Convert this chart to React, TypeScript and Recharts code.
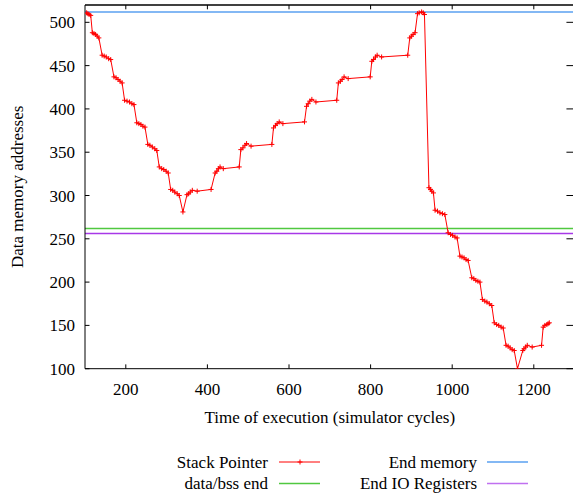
import React from 'react';
import { LineChart, Line, XAxis, YAxis, ReferenceLine } from 'recharts';

// simulator cycles for each stack pointer sample
const cycles = [
  104, 107, 110, 114,
  118, 122, 126, 130, 134,
  142, 147, 152, 158, 163,
  171, 176, 181, 186, 191,
  197, 203, 209, 215, 220,
  227, 232, 237, 242, 247,
  254, 259, 265, 271, 276,
  282, 288, 293, 299, 304,
  310, 315, 320, 326, 331,
  340,
  350, 354, 358, 363, 375, 409,
  419, 423, 427, 431, 439, 478,
  482, 487, 492, 496, 507, 558,
  562, 567, 571, 576, 585, 638,
  643, 647, 651, 656, 666, 717,
  721, 726, 730, 735, 745, 799,
  803, 807, 812, 816, 827, 891,
  896, 900, 904, 909, 915, 919, 925, 929, 932,
  943, 947, 950, 954,
  958, 964, 970, 976, 982,
  990, 996, 1001, 1007, 1012,
  1019, 1024, 1029, 1034, 1039,
  1048, 1053, 1058, 1063, 1068,
  1074, 1080, 1085, 1091, 1097,
  1103, 1109, 1114, 1120, 1125,
  1132, 1137, 1142, 1147, 1152,
  1160,
  1173, 1176, 1180, 1184, 1196, 1219,
  1223, 1227, 1232, 1235, 1238,
];

// stack pointer address at each sample
const stackPointer = [
  511, 510, 509, 508,
  488, 487, 486, 484, 482,
  462, 461, 460, 458, 457,
  437, 436, 434, 432, 430,
  410, 409, 408, 406, 405,
  384, 383, 382, 380, 379,
  359, 358, 356, 354, 352,
  333, 331, 330, 328, 326,
  307, 306, 304, 302, 300,
  281,
  301, 302, 304, 306, 305, 307,
  326, 328, 331, 333, 331, 333,
  353, 355, 358, 360, 357, 359,
  378, 381, 383, 385, 383, 385,
  403, 406, 409, 411, 408, 410,
  430, 432, 434, 437, 435, 437,
  455, 457, 460, 462, 460, 462,
  482, 484, 486, 488, 510, 511, 512, 511, 509,
  309, 307, 305, 303,
  283, 282, 280, 279, 278,
  257, 255, 254, 252, 251,
  230, 229, 228, 226, 225,
  205, 204, 202, 201, 200,
  180, 178, 177, 175, 173,
  153, 151, 150, 148, 147,
  127, 126, 124, 122, 121,
  100,
  121, 123, 125, 127, 125, 127,
  148, 150, 151, 152, 153,
];

const endMemory = 512;
const dataBssEnd = 262;
const endIoRegisters = 256;

const xTicks = [200, 400, 600, 800, 1000, 1200];
const yTicks = [100, 150, 200, 250, 300, 350, 400, 450, 500];

const FONT =
  "'Liberation Serif', 'Times New Roman', Times, 'Nimbus Roman', 'Noto Serif', 'DejaVu Serif', serif";

const data = cycles.map((c, i) => ({ cycle: c, sp: stackPointer[i] }));

const Cross = (props: any) => {
  const { cx, cy } = props;
  if (cx == null || cy == null) return <g />;
  return (
    <path
      d={`M${cx - 2.5},${cy}H${cx + 2.5}M${cx},${cy - 2.5}V${cy + 2.5}`}
      stroke="#ff0000"
      strokeWidth={1}
      fill="none"
    />
  );
};

const App: React.FC = () => {
  return (
    <div
      style={{
        position: 'absolute',
        left: 0,
        top: 0,
        width: 573,
        height: 493,
        overflow: 'hidden',
        background: '#fff',
        fontFamily: FONT,
      }}
    >
      <LineChart
        width={600}
        height={493}
        data={data}
        margin={{ top: 5, right: 25.4, left: 0, bottom: 94.3 }}
        style={{ fontFamily: FONT }}
      >
        <XAxis
          dataKey="cycle"
          type="number"
          domain={[100, 1300]}
          ticks={xTicks}
          allowDataOverflow
          height={30}
          tickLine={false}
          tickMargin={8}
          stroke="#000"
          tick={{ fontSize: 17, fill: '#000', fontFamily: FONT }}
          label={{
            value: 'Time of execution (simulator cycles)',
            position: 'bottom',
            offset: 12,
            style: { fontSize: 17, fill: '#000', fontFamily: FONT },
          }}
        />
        <YAxis
          type="number"
          domain={[100, 520]}
          ticks={yTicks}
          allowDataOverflow
          width={85}
          tickLine={false}
          tickMargin={4}
          stroke="#000"
          tick={{ fontSize: 17, fill: '#000', fontFamily: FONT }}
          label={{
            value: 'Data memory addresses',
            angle: -90,
            position: 'insideLeft',
            offset: 17,
            style: { fontSize: 17, fill: '#000', fontFamily: FONT, textAnchor: 'middle' },
          }}
        />

        {/* frame and inward ticks, gnuplot style */}
        <ReferenceLine y={520} stroke="#000" strokeWidth={1.5} />
        <ReferenceLine x={1300} stroke="#000" strokeWidth={1.5} />
        {xTicks.map((t) => (
          <ReferenceLine key={`xb${t}`} segment={[{ x: t, y: 100 }, { x: t, y: 105 }]} stroke="#000" />
        ))}
        {xTicks.map((t) => (
          <ReferenceLine key={`xt${t}`} segment={[{ x: t, y: 520 }, { x: t, y: 515 }]} stroke="#000" />
        ))}
        {yTicks.map((t) => (
          <ReferenceLine key={`yl${t}`} segment={[{ x: 100, y: t }, { x: 111, y: t }]} stroke="#000" />
        ))}
        {yTicks.map((t) => (
          <ReferenceLine key={`yr${t}`} segment={[{ x: 1300, y: t }, { x: 1280, y: t }]} stroke="#000" />
        ))}

        <ReferenceLine y={endMemory} stroke="#5aa0f0" strokeWidth={1.5} />
        <ReferenceLine y={dataBssEnd} stroke="#50c840" strokeWidth={1.5} />
        <ReferenceLine y={endIoRegisters} stroke="#a838e8" strokeWidth={1.5} />

        <Line
          type="linear"
          dataKey="sp"
          stroke="#ff0000"
          strokeWidth={1}
          dot={(p: any) => <Cross key={p.index} {...p} />}
          isAnimationActive={false}
        />
      </LineChart>

      <svg
        width={573}
        height={53}
        style={{ position: 'absolute', left: 0, top: 440, fontFamily: FONT, fontSize: 17 }}
      >
        <text x={268} y={22} textAnchor="end" dominantBaseline="central">Stack Pointer</text>
        <line x1={279} x2={320} y1={22} y2={22} stroke="#ff0000" strokeWidth={1} />
        <path d="M297.5,22H302.5M300,19.5V24.5" stroke="#ff0000" strokeWidth={1} />
        <text x={268} y={43.5} textAnchor="end" dominantBaseline="central">data/bss end</text>
        <line x1={279} x2={320} y1={43.5} y2={43.5} stroke="#50c840" strokeWidth={1.5} />

        <text x={477} y={22} textAnchor="end" dominantBaseline="central">End memory</text>
        <line x1={487} x2={528} y1={22} y2={22} stroke="#5aa0f0" strokeWidth={1.5} />
        <text x={477} y={43.5} textAnchor="end" dominantBaseline="central">End IO Registers</text>
        <line x1={487} x2={528} y1={43.5} y2={43.5} stroke="#c070f0" strokeWidth={1.5} />
      </svg>
    </div>
  );
};

export default App;
